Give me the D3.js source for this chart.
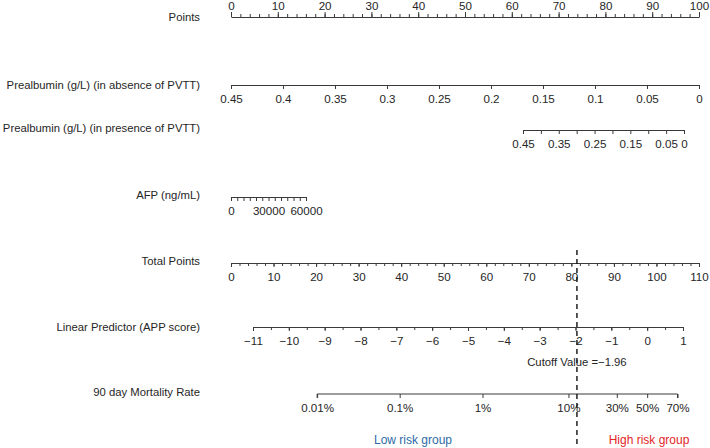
<!DOCTYPE html>
<html><head><meta charset="utf-8">
<script src="https://cdn.jsdelivr.net/npm/d3@7"></script>
<style>
body{margin:0;background:#fff;}
svg{display:block;font-family:"Liberation Sans",Arial,sans-serif;}
.lbl{font-size:11.3px;fill:#262626;}
.tick text{font-size:11.6px;fill:#262626;}
.domain,.tick line{stroke:#3a3a3a;stroke-width:1;}
</style></head>
<body>
<svg id="c" width="710" height="448"></svg>
<script>
// ---- data ----
const rowLabels = ["Points","Prealbumin (g/L) (in absence of PVTT)","Prealbumin (g/L) (in presence of PVTT)","AFP (ng/mL)","Total Points","Linear Predictor (APP score)","90 day Mortality Rate"];
const pointsTicks = d3.range(0, 101, 10);
const pointsMinor = d3.range(0, 101, 2);
const prealbAbsTicks = [0.45,0.4,0.35,0.3,0.25,0.2,0.15,0.1,0.05,0];
const prealbPresTicks = [0.45,0.4,0.35,0.3,0.25,0.2,0.15,0.1,0.05,0];
const prealbPresLabels = [0.45,0.35,0.25,0.15,0.05,0];
const afpTicks = d3.range(0, 60001, 5000);
const afpLabels = [0, 30000, 60000];
const totalTicks = d3.range(0, 111, 10);
const totalMinor = d3.range(0, 111, 2);
const lpTicks = d3.range(-11, 2, 1);
const lpMinor = d3.range(-11, 1.01, 0.5);
const mortTicks = [0.0001, 0.001, 0.01, 0.1, 0.3, 0.5, 0.7];
const mortLabels = ["0.01%","0.1%","1%","10%","30%","50%","70%"];
const cutoff = -1.96;
const groupLabels = ["Low risk group","High risk group"];

// ---- layout ----
const svg = d3.select("#c");
const X0 = 231, X1 = 699;
const rowY = [17, 85, 130, 197, 263, 327, 394];
const labelY = [17, 85, 128, 195, 261, 327, 392];

svg.selectAll("text.lbl").data(rowLabels).join("text")
  .attr("class","lbl").attr("x",200).attr("y",(d,i)=>labelY[i]).attr("dy","0.35em")
  .attr("text-anchor","end").text(d=>d);

const fmt = d => String(+d.toFixed(2));

// Points
const xPts = d3.scaleLinear().domain([0,100]).range([X0,X1]);
svg.append("g").attr("transform",`translate(0,${rowY[0]})`)
  .call(d3.axisTop(xPts).tickValues(pointsMinor).tickSize(3).tickSizeOuter(0).tickFormat(""));
svg.append("g").attr("transform",`translate(0,${rowY[0]})`)
  .call(d3.axisTop(xPts).tickValues(pointsTicks).tickSize(5).tickSizeOuter(0).tickPadding(2))
  .call(g=>g.select(".domain").remove());

// Prealbumin absence
const xPa = d3.scaleLinear().domain([0.45,0]).range([X0,X1]);
svg.append("g").attr("transform",`translate(0,${rowY[1]})`)
  .call(d3.axisBottom(xPa).tickValues(prealbAbsTicks).tickSize(4).tickSizeOuter(0).tickFormat(fmt).tickPadding(6));

// Prealbumin presence
const xPp = d3.scaleLinear().domain([0.45,0]).range([523,684]);
svg.append("g").attr("transform",`translate(0,${rowY[2]})`)
  .call(d3.axisBottom(xPp).tickValues(prealbPresTicks).tickSize(4).tickSizeOuter(0)
    .tickFormat(d=>prealbPresLabels.some(v=>Math.abs(v-d)<1e-9)?fmt(d):"").tickPadding(6));

// AFP
const xAfp = d3.scaleLinear().domain([0,60000]).range([X0,306]);
svg.append("g").attr("transform",`translate(0,${rowY[3]})`)
  .call(d3.axisBottom(xAfp).tickValues(afpTicks).tickSize(4).tickSizeOuter(0)
    .tickFormat(d=>afpLabels.includes(d)?String(d):"").tickPadding(6));

// Total points
const xTot = d3.scaleLinear().domain([0,110]).range([X0,X1]);
svg.append("g").attr("transform",`translate(0,${rowY[4]})`)
  .call(d3.axisBottom(xTot).tickValues(totalMinor).tickSize(3).tickSizeOuter(0).tickFormat(""));
svg.append("g").attr("transform",`translate(0,${rowY[4]})`)
  .call(d3.axisBottom(xTot).tickValues(totalTicks).tickSize(4).tickSizeOuter(0).tickPadding(6))
  .call(g=>g.select(".domain").remove());

// Linear predictor
const xLp = d3.scaleLinear().domain([-11,1]).range([253,683]);
svg.append("g").attr("transform",`translate(0,${rowY[5]})`)
  .call(d3.axisBottom(xLp).tickValues(lpMinor).tickSize(3).tickSizeOuter(0).tickFormat(""));
svg.append("g").attr("transform",`translate(0,${rowY[5]})`)
  .call(d3.axisBottom(xLp).tickValues(lpTicks).tickSize(4).tickSizeOuter(0).tickPadding(6)
    .tickFormat(d=>String(d).replace("-","\u2212")))
  .call(g=>g.select(".domain").remove());

// Mortality (mapped through logit onto linear predictor scale)
const logit = p => Math.log(p/(1-p));
svg.append("g").attr("transform",`translate(0,${rowY[6]})`)
  .call(d3.axisBottom(xLp).tickValues(mortTicks.map(logit)).tickSize(4).tickSizeOuter(0).tickPadding(6)
    .tickFormat((d,i)=>mortLabels[i]))
  .call(g=>g.select(".domain").attr("d",`M${xLp(logit(mortTicks[0]))},4V0H${xLp(logit(mortTicks[mortTicks.length-1]))}V4`));

// Cutoff line
const xc = xLp(cutoff);
svg.append("line").attr("x1",xc).attr("x2",xc).attr("y1",250).attr("y2",448)
  .attr("stroke","#111").attr("stroke-width",1.4).attr("stroke-dasharray","5,4");
svg.append("text").attr("class","lbl").attr("x",xc).attr("y",362).attr("dy","0.35em")
  .attr("text-anchor","middle").text("Cutoff Value =\u22121.96");

// Groups
svg.append("text").attr("x",413).attr("y",440).attr("dy","0.35em").attr("text-anchor","middle")
  .style("font-size","12px").attr("fill","#2e6aa6").text(groupLabels[0]);
svg.append("text").attr("x",649).attr("y",440).attr("dy","0.35em").attr("text-anchor","middle")
  .style("font-size","12px").attr("fill","#e32526").text(groupLabels[1]);
</script>
</body></html>
